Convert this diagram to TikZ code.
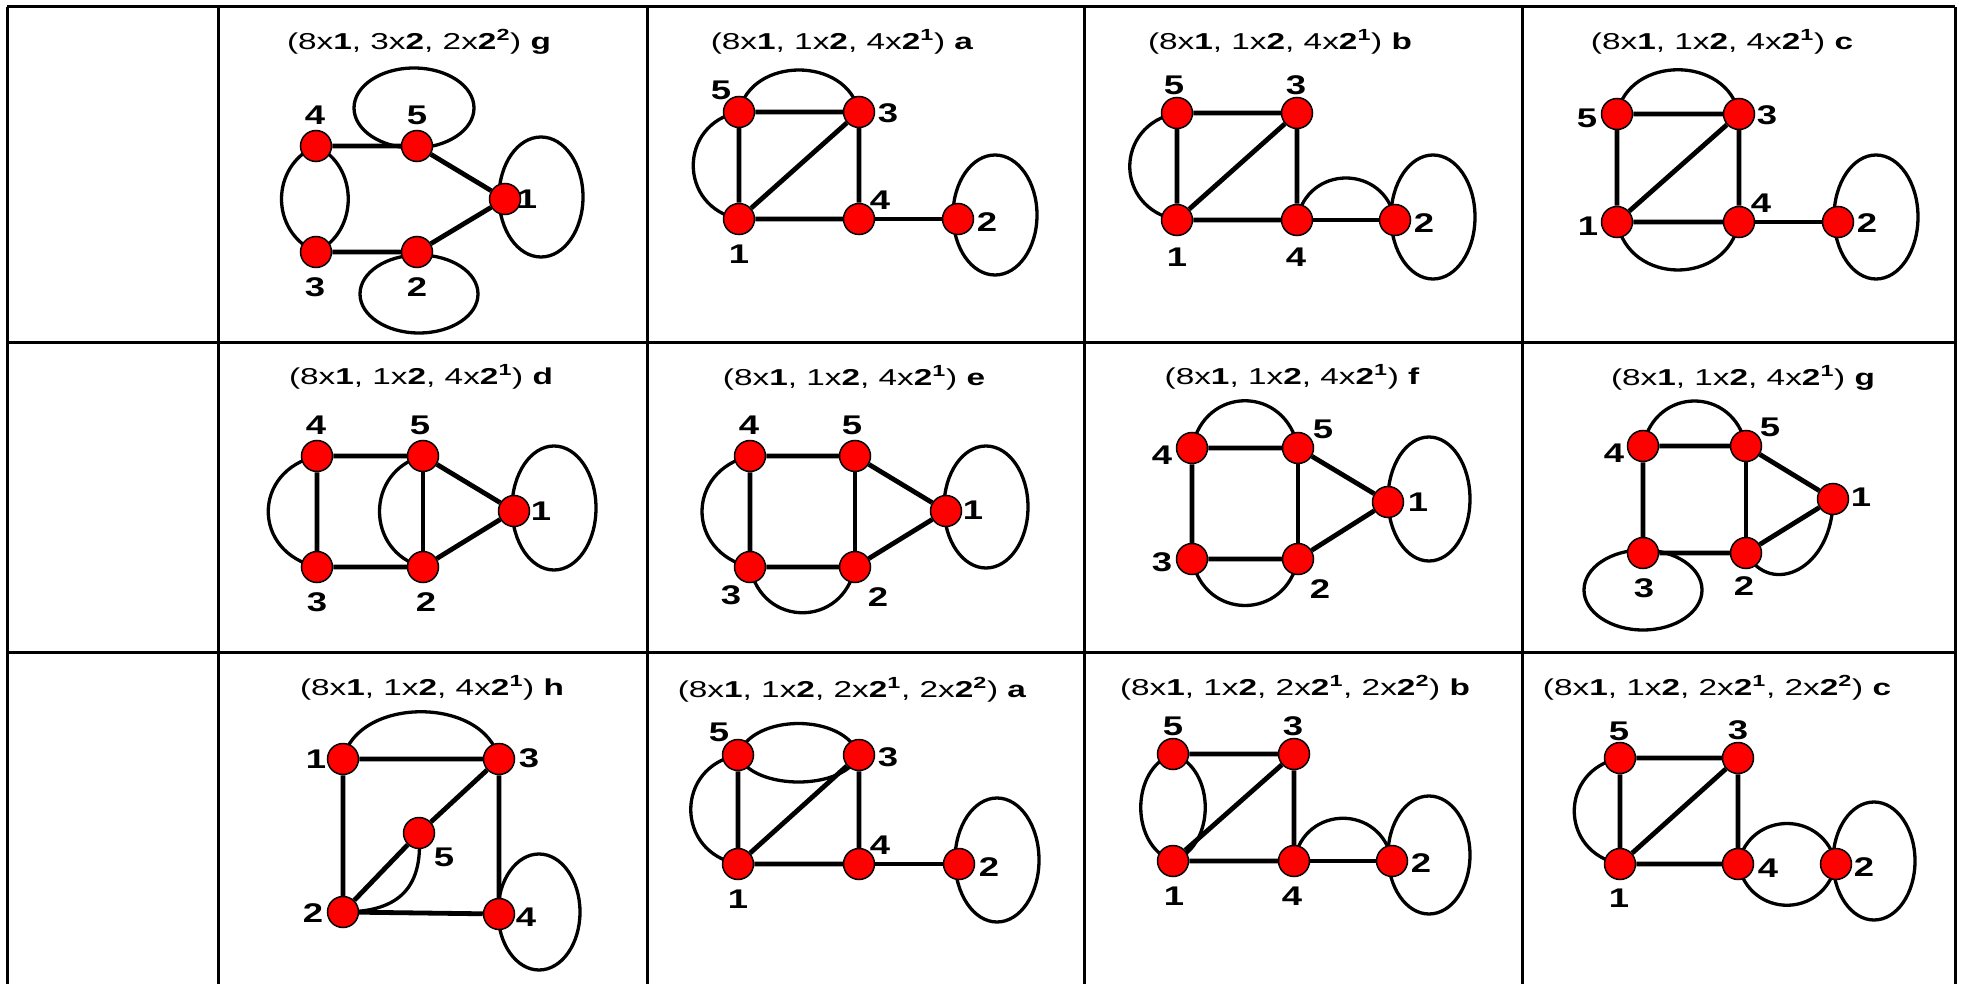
\documentclass[tikz,border=0pt]{standalone}
\usepackage{fontspec}
\setmainfont{Liberation Sans}
\usepackage{graphicx}
\usetikzlibrary{backgrounds}
\newcommand{\wide}[1]{\scalebox{1.35}[1]{#1}}
\newcommand{\widehdr}[1]{\scalebox{1.45}[1]{#1}}

\begin{document}
\begin{tikzpicture}[
    x=1pt, y=-1pt,
    vtx/.style={circle, draw=black, line width=1.5pt, fill=red, minimum size=31pt, inner sep=0pt},
    num/.style={inner sep=0pt, font=\bfseries\fontsize{27}{28}\selectfont},
    hdr/.style={inner sep=0pt, font=\fontsize{23}{24}\selectfont},
    link/.style={line width=4.8pt},
    bow/.style={line width=3.3pt},
    ring/.style={line width=3.3pt},
    tabline/.style={line width=3pt}
]
    \useasboundingbox (0,0) rectangle (1963,984);

    % table
    \draw[tabline] (7,7) -- (1955,7);
    \draw[tabline] (7,343) -- (1955,343);
    \draw[tabline] (7,652) -- (1955,652);
    \foreach \x in {7,218,647,1084,1522,1955}
        \draw[tabline] (\x,7) -- (\x,984);

    % (8x1, 3x2, 2x2^2) g
    \node[hdr] (tA) at (419,42) {\widehdr{(8x\textbf{1}, 3x\textbf{2}, 2x\textbf{2\textsuperscript{2}}) \textbf{g}}};
    \node[vtx] (A4) at (316,146) {};
    \node[vtx] (A5) at (417,146) {};
    \node[vtx] (A1) at (505,199) {};
    \node[vtx] (A3) at (316,252) {};
    \node[vtx] (A2) at (417,252) {};
    \node[num] (lA4) at (315,115) {\wide{4}};
    \node[num] (lA5) at (417,115) {\wide{5}};
    \node[num] (lA1) at (527,199) {\wide{1}};
    \node[num] (lA3) at (315,287) {\wide{3}};
    \node[num] (lA2) at (417,287) {\wide{2}};
    \begin{scope}[on background layer]
        \draw[link] (A4) -- (A5) -- (A1) -- (A2) -- (A3);
        \draw[bow] (A4.center) .. controls +(-46,20) and +(-46,-20) .. (A3.center);
        \draw[bow] (A4.center) .. controls +(43,20) and +(43,-20) .. (A3.center);
        \draw[ring] (A5.center) ++(-3,-38) ellipse (60pt and 40pt);
        \draw[ring] (A1.center) ++(36,-2) ellipse (42pt and 60pt);
        \draw[ring] (A2.center) ++(2,42) ellipse (59pt and 39pt);
    \end{scope}

    % (8x1, 1x2, 4x2^1) a
    \node[hdr] (tB) at (842,42) {\widehdr{(8x\textbf{1}, 1x\textbf{2}, 4x\textbf{2\textsuperscript{1}}) \textbf{a}}};
    \node[vtx] (B5) at (739,112) {};
    \node[vtx] (B3) at (859,112) {};
    \node[vtx] (B1) at (739,219) {};
    \node[vtx] (B4) at (859,219) {};
    \node[vtx] (B2) at (958,219) {};
    \node[num] (lB5) at (721,90) {\wide{5}};
    \node[num] (lB3) at (888,113) {\wide{3}};
    \node[num] (lB1) at (739,254) {\wide{1}};
    \node[num] (lB4) at (880,200) {\wide{4}};
    \node[num] (lB2) at (987,222) {\wide{2}};
    \begin{scope}[on background layer]
        \draw[link] (B1) -- (B5) -- (B3) -- (B4) -- (B1) -- (B3);
        \draw[link] (B4) -- (B2);
        \draw[bow] (B5.center) .. controls +(12,-56) and +(-12,-56) .. (B3.center);
        \draw[bow] (B5.center) .. controls +(-61,12) and +(-61,-12) .. (B1.center);
        \draw[ring] (B2.center) ++(37,-4) ellipse (42pt and 60pt);
    \end{scope}

    % (8x1, 1x2, 4x2^1) b
    \node[hdr] (tC) at (1280,42) {\widehdr{(8x\textbf{1}, 1x\textbf{2}, 4x\textbf{2\textsuperscript{1}}) \textbf{b}}};
    \node[vtx] (C5) at (1177,113) {};
    \node[vtx] (C3) at (1297,113) {};
    \node[vtx] (C1) at (1177,220) {};
    \node[vtx] (C4) at (1297,220) {};
    \node[vtx] (C2) at (1395,220) {};
    \node[num] (lC5) at (1174,85) {\wide{5}};
    \node[num] (lC3) at (1296,85) {\wide{3}};
    \node[num] (lC1) at (1177,257) {\wide{1}};
    \node[num] (lC4) at (1296,257) {\wide{4}};
    \node[num] (lC2) at (1424,223) {\wide{2}};
    \begin{scope}[on background layer]
        \draw[link] (C1) -- (C5) -- (C3) -- (C4) -- (C1) -- (C3);
        \draw[link] (C4) -- (C2);
        \draw[bow] (C5.center) .. controls +(-63,12) and +(-63,-12) .. (C1.center);
        \draw[bow] (C4.center) .. controls +(10,-56) and +(-10,-56) .. (C2.center);
        \draw[ring] (C2.center) ++(38,-3) ellipse (42pt and 62pt);
    \end{scope}

    % (8x1, 1x2, 4x2^1) c
    \node[hdr] (tD) at (1722,42) {\widehdr{(8x\textbf{1}, 1x\textbf{2}, 4x\textbf{2\textsuperscript{1}}) \textbf{c}}};
    \node[vtx] (D5) at (1617,114) {};
    \node[vtx] (D3) at (1739,114) {};
    \node[vtx] (D1) at (1617,222) {};
    \node[vtx] (D4) at (1739,222) {};
    \node[vtx] (D2) at (1838,222) {};
    \node[num] (lD5) at (1587,118) {\wide{5}};
    \node[num] (lD3) at (1767,115) {\wide{3}};
    \node[num] (lD1) at (1588,226) {\wide{1}};
    \node[num] (lD4) at (1761,203) {\wide{4}};
    \node[num] (lD2) at (1867,223) {\wide{2}};
    \begin{scope}[on background layer]
        \draw[link] (D1) -- (D5) -- (D3) -- (D4) -- (D1) -- (D3);
        \draw[link] (D4) -- (D2);
        \draw[bow] (D5.center) .. controls +(12,-59) and +(-12,-59) .. (D3.center);
        \draw[bow] (D1.center) .. controls +(12,64) and +(-12,64) .. (D4.center);
        \draw[ring] (D2.center) ++(38,-5) ellipse (42pt and 62pt);
    \end{scope}

    % (8x1, 1x2, 4x2^1) d
    \node[hdr] (tE) at (421,377) {\widehdr{(8x\textbf{1}, 1x\textbf{2}, 4x\textbf{2\textsuperscript{1}}) \textbf{d}}};
    \node[vtx] (E4) at (317,456) {};
    \node[vtx] (E5) at (423,456) {};
    \node[vtx] (E1) at (514,511) {};
    \node[vtx] (E3) at (317,567) {};
    \node[vtx] (E2) at (423,567) {};
    \node[num] (lE4) at (316,425) {\wide{4}};
    \node[num] (lE5) at (420,425) {\wide{5}};
    \node[num] (lE1) at (541,511) {\wide{1}};
    \node[num] (lE3) at (317,602) {\wide{3}};
    \node[num] (lE2) at (426,602) {\wide{2}};
    \begin{scope}[on background layer]
        \draw[link] (E3) -- (E4) -- (E5) -- (E1) -- (E2) -- (E3);
        \draw[link] (E5) -- (E2);
        \draw[bow] (E4.center) .. controls +(-65,15) and +(-65,-15) .. (E3.center);
        \draw[bow] (E5.center) .. controls +(-58,15) and +(-58,-15) .. (E2.center);
        \draw[ring] (E1.center) ++(40,-3) ellipse (42pt and 62pt);
    \end{scope}

    % (8x1, 1x2, 4x2^1) e
    \node[hdr] (tF) at (854,378) {\widehdr{(8x\textbf{1}, 1x\textbf{2}, 4x\textbf{2\textsuperscript{1}}) \textbf{e}}};
    \node[vtx] (F4) at (750,456) {};
    \node[vtx] (F5) at (855,456) {};
    \node[vtx] (F1) at (946,511) {};
    \node[vtx] (F3) at (750,567) {};
    \node[vtx] (F2) at (855,567) {};
    \node[num] (lF4) at (749,425) {\wide{4}};
    \node[num] (lF5) at (852,425) {\wide{5}};
    \node[num] (lF1) at (973,510) {\wide{1}};
    \node[num] (lF3) at (731,595) {\wide{3}};
    \node[num] (lF2) at (878,597) {\wide{2}};
    \begin{scope}[on background layer]
        \draw[link] (F3) -- (F4) -- (F5) -- (F1) -- (F2) -- (F3);
        \draw[link] (F5) -- (F2);
        \draw[bow] (F4.center) .. controls +(-64,15) and +(-64,-15) .. (F3.center);
        \draw[bow] (F3.center) .. controls +(12,61) and +(-12,61) .. (F2.center);
        \draw[ring] (F1.center) ++(40,-4) ellipse (42pt and 61pt);
    \end{scope}

    % (8x1, 1x2, 4x2^1) f
    \node[hdr] (tG) at (1292,377) {\widehdr{(8x\textbf{1}, 1x\textbf{2}, 4x\textbf{2\textsuperscript{1}}) \textbf{f}}};
    \node[vtx] (G4) at (1192,448) {};
    \node[vtx] (G5) at (1298,448) {};
    \node[vtx] (G1) at (1388,502) {};
    \node[vtx] (G3) at (1192,559) {};
    \node[vtx] (G2) at (1298,559) {};
    \node[num] (lG4) at (1162,455) {\wide{4}};
    \node[num] (lG5) at (1323,429) {\wide{5}};
    \node[num] (lG1) at (1418,502) {\wide{1}};
    \node[num] (lG3) at (1162,562) {\wide{3}};
    \node[num] (lG2) at (1320,589) {\wide{2}};
    \begin{scope}[on background layer]
        \draw[link] (G3) -- (G4) -- (G5) -- (G1) -- (G2) -- (G3);
        \draw[link] (G5) -- (G2);
        \draw[bow] (G4.center) .. controls +(12,-63) and +(-12,-63) .. (G5.center);
        \draw[bow] (G3.center) .. controls +(12,62) and +(-12,62) .. (G2.center);
        \draw[ring] (G1.center) ++(41,-3) ellipse (41pt and 62pt);
    \end{scope}

    % (8x1, 1x2, 4x2^1) g
    \node[hdr] (tH) at (1743,378) {\widehdr{(8x\textbf{1}, 1x\textbf{2}, 4x\textbf{2\textsuperscript{1}}) \textbf{g}}};
    \node[vtx] (H4) at (1643,446) {};
    \node[vtx] (H5) at (1746,446) {};
    \node[vtx] (H1) at (1833,499) {};
    \node[vtx] (H3) at (1643,553) {};
    \node[vtx] (H2) at (1746,553) {};
    \node[num] (lH4) at (1614,453) {\wide{4}};
    \node[num] (lH5) at (1770,427) {\wide{5}};
    \node[num] (lH1) at (1861,497) {\wide{1}};
    \node[num] (lH3) at (1644,588) {\wide{3}};
    \node[num] (lH2) at (1744,586) {\wide{2}};
    \begin{scope}[on background layer]
        \draw[link] (H3) -- (H4) -- (H5) -- (H1) -- (H2) -- (H3);
        \draw[link] (H5) -- (H2);
        \draw[bow] (H4.center) .. controls +(12,-60) and +(-12,-60) .. (H5.center);
        \draw[bow] (H2.center) .. controls +(25,45) and +(0,70) .. (H1.center);
        \draw[ring] (H3.center) ++(0,37) ellipse (59pt and 40pt);
    \end{scope}

    % (8x1, 1x2, 4x2^1) h
    \node[hdr] (tI) at (432,688) {\widehdr{(8x\textbf{1}, 1x\textbf{2}, 4x\textbf{2\textsuperscript{1}}) \textbf{h}}};
    \node[vtx] (I1) at (343,759) {};
    \node[vtx] (I3) at (499,759) {};
    \node[vtx] (I5) at (419,833) {};
    \node[vtx] (I2) at (343,912) {};
    \node[vtx] (I4) at (499,914) {};
    \node[num] (lI1) at (316,759) {\wide{1}};
    \node[num] (lI3) at (529,758) {\wide{3}};
    \node[num] (lI5) at (444,857) {\wide{5}};
    \node[num] (lI2) at (313,913) {\wide{2}};
    \node[num] (lI4) at (526,917) {\wide{4}};
    \begin{scope}[on background layer]
        \draw[link] (I2) -- (I1) -- (I3) -- (I4) -- (I2) -- (I5) -- (I3);
        \draw[bow] (I1.center) .. controls +(15,-63) and +(-15,-63) .. (I3.center);
        \draw[bow] (I5.center) .. controls +(5,60) and +(50,0) .. (I2.center);
        \draw[ring] (I4.center) ++(40,-2) ellipse (41pt and 58pt);
    \end{scope}

    % (8x1, 1x2, 2x2^1, 2x2^2) a
    \node[hdr] (tJ) at (852,690) {\widehdr{(8x\textbf{1}, 1x\textbf{2}, 2x\textbf{2\textsuperscript{1}}, 2x\textbf{2\textsuperscript{2}}) \textbf{a}}};
    \node[vtx] (J5) at (738,755) {};
    \node[vtx] (J3) at (859,755) {};
    \node[vtx] (J1) at (738,864) {};
    \node[vtx] (J4) at (859,864) {};
    \node[vtx] (J2) at (959,864) {};
    \node[num] (lJ5) at (719,732) {\wide{5}};
    \node[num] (lJ3) at (888,757) {\wide{3}};
    \node[num] (lJ1) at (738,899) {\wide{1}};
    \node[num] (lJ4) at (880,845) {\wide{4}};
    \node[num] (lJ2) at (989,867) {\wide{2}};
    \begin{scope}[on background layer]
        \draw[link] (J5) -- (J1) -- (J3) -- (J4) -- (J1);
        \draw[link] (J4) -- (J2);
        \draw[bow] (J5.center) .. controls +(15,-42) and +(-15,-42) .. (J3.center);
        \draw[bow] (J5.center) .. controls +(15,36) and +(-15,36) .. (J3.center);
        \draw[bow] (J5.center) .. controls +(-63,12) and +(-63,-12) .. (J1.center);
        \draw[ring] (J2.center) ++(38,-4) ellipse (42pt and 62pt);
    \end{scope}

    % (8x1, 1x2, 2x2^1, 2x2^2) b
    \node[hdr] (tK) at (1295,688) {\widehdr{(8x\textbf{1}, 1x\textbf{2}, 2x\textbf{2\textsuperscript{1}}, 2x\textbf{2\textsuperscript{2}}) \textbf{b}}};
    \node[vtx] (K5) at (1173,754) {};
    \node[vtx] (K3) at (1294,754) {};
    \node[vtx] (K1) at (1173,861) {};
    \node[vtx] (K4) at (1294,861) {};
    \node[vtx] (K2) at (1392,861) {};
    \node[num] (lK5) at (1173,726) {\wide{5}};
    \node[num] (lK3) at (1293,726) {\wide{3}};
    \node[num] (lK1) at (1174,896) {\wide{1}};
    \node[num] (lK4) at (1292,896) {\wide{4}};
    \node[num] (lK2) at (1421,863) {\wide{2}};
    \begin{scope}[on background layer]
        \draw[link] (K5) -- (K3) -- (K4) -- (K1) -- (K3);
        \draw[link] (K4) -- (K2);
        \draw[bow] (K5.center) .. controls +(-43,15) and +(-43,-15) .. (K1.center);
        \draw[bow] (K5.center) .. controls +(43,15) and +(43,-15) .. (K1.center);
        \draw[bow] (K4.center) .. controls +(10,-57) and +(-10,-57) .. (K2.center);
        \draw[ring] (K2.center) ++(37,-6) ellipse (41pt and 59pt);
    \end{scope}

    % (8x1, 1x2, 2x2^1, 2x2^2) c
    \node[hdr] (tL) at (1717,688) {\widehdr{(8x\textbf{1}, 1x\textbf{2}, 2x\textbf{2\textsuperscript{1}}, 2x\textbf{2\textsuperscript{2}}) \textbf{c}}};
    \node[vtx] (L5) at (1620,758) {};
    \node[vtx] (L3) at (1738,758) {};
    \node[vtx] (L1) at (1620,864) {};
    \node[vtx] (L4) at (1738,864) {};
    \node[vtx] (L2) at (1836,864) {};
    \node[num] (lL5) at (1619,731) {\wide{5}};
    \node[num] (lL3) at (1738,730) {\wide{3}};
    \node[num] (lL1) at (1619,898) {\wide{1}};
    \node[num] (lL4) at (1768,868) {\wide{4}};
    \node[num] (lL2) at (1864,867) {\wide{2}};
    \begin{scope}[on background layer]
        \draw[link] (L1) -- (L5) -- (L3) -- (L4) -- (L1) -- (L3);
        \draw[bow] (L4.center) .. controls +(12,-54) and +(-12,-54) .. (L2.center);
        \draw[bow] (L4.center) .. controls +(12,55) and +(-12,55) .. (L2.center);
        \draw[bow] (L5.center) .. controls +(-61,12) and +(-61,-12) .. (L1.center);
        \draw[ring] (L2.center) ++(38,-3) ellipse (41pt and 59pt);
    \end{scope}
\end{tikzpicture}
\end{document}
